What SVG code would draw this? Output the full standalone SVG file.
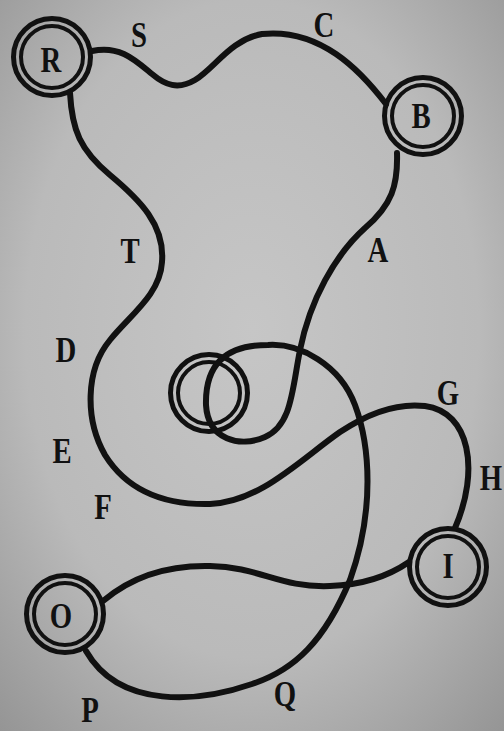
<svg xmlns="http://www.w3.org/2000/svg" width="504" height="731" viewBox="0 0 504 731">
  <defs>
    <radialGradient id="bg" cx="50%" cy="45%" r="75%">
      <stop offset="0" stop-color="#c6c6c6"/>
      <stop offset="0.6" stop-color="#bababa"/>
      <stop offset="1" stop-color="#949494"/>
    </radialGradient>
    <style>
      .outer { fill: none; stroke: #111; stroke-width: 5; }
      .inner { fill: none; stroke: #111; stroke-width: 4; }
      .wire { fill: none; stroke: #111; stroke-width: 6; stroke-linecap: round; }
      .lbl { font-family: "Liberation Serif", "Times New Roman", serif; font-weight: bold; font-size: 36px; fill: #111; text-anchor: middle; }
    </style>
  </defs>
  <rect x="0" y="0" width="504" height="731" fill="url(#bg)"/>

  <g id="node-R">
    <circle class="outer" cx="52" cy="57" r="38.5"/>
    <circle class="inner" cx="52" cy="57" r="31"/>
    <text class="lbl" transform="translate(51,72) scale(0.8,1)">R</text>
  </g>
  <g id="node-B">
    <circle class="outer" cx="423" cy="116" r="38.5"/>
    <circle class="inner" cx="423" cy="116" r="31"/>
    <text class="lbl" transform="translate(421,128) scale(0.8,1)">B</text>
  </g>
  <g id="node-center">
    <circle class="outer" cx="209" cy="393" r="38.5"/>
    <circle class="inner" cx="209" cy="393" r="31"/>
  </g>
  <g id="node-I">
    <circle class="outer" cx="448" cy="567" r="38.5"/>
    <circle class="inner" cx="448" cy="567" r="31"/>
    <text class="lbl" transform="translate(448,578) scale(0.8,1)">I</text>
  </g>
  <g id="node-O">
    <circle class="outer" cx="65" cy="614" r="38.5"/>
    <circle class="inner" cx="65" cy="614" r="31"/>
    <text class="lbl" transform="translate(61,628) scale(0.8,1)">O</text>
  </g>

  <g id="connectors">
    <path id="edge-R-B" class="wire" d="M 92,51 C 120,45 135,60 152,74 C 165,85 178,90 195,80 C 215,68 230,40 262,34 C 320,28 360,70 386,104"/>
    <path id="edge-B-O" class="wire" d="M 397,153 C 398,185 392,205 365,228 C 335,255 310,300 300,350 C 292,390 292,425 265,437 C 240,448 208,440 206,405 C 205,365 225,345 268,345 C 300,343 340,365 355,405 C 370,445 375,510 350,580 C 325,640 295,670 252,684 C 200,702 120,710 86,651"/>
    <path id="edge-R-I" class="wire" d="M 70,93 C 72,130 80,150 110,175 C 140,200 165,225 162,262 C 160,295 130,315 110,340 C 85,370 85,420 105,455 C 130,495 170,505 210,504 C 260,502 300,460 340,432 C 370,412 400,403 425,406 C 470,412 480,470 455,528"/>
    <path id="edge-O-I" class="wire" d="M 103,601 C 130,578 165,565 210,566 C 260,567 280,588 330,586 C 365,585 390,575 409,562"/>
  </g>

  <g id="edge-labels">
    <text class="lbl" transform="translate(139,47) scale(0.8,1)">S</text>
    <text class="lbl" transform="translate(324,37) scale(0.8,1)">C</text>
    <text class="lbl" transform="translate(378,262) scale(0.8,1)">A</text>
    <text class="lbl" transform="translate(130,263) scale(0.8,1)">T</text>
    <text class="lbl" transform="translate(66,362) scale(0.8,1)">D</text>
    <text class="lbl" transform="translate(62,463) scale(0.8,1)">E</text>
    <text class="lbl" transform="translate(103,519) scale(0.8,1)">F</text>
    <text class="lbl" transform="translate(448,405) scale(0.8,1)">G</text>
    <text class="lbl" transform="translate(491,490) scale(0.8,1)">H</text>
    <text class="lbl" transform="translate(90,722) scale(0.8,1)">P</text>
    <text class="lbl" transform="translate(285,706) scale(0.8,1)">Q</text>
  </g>
</svg>
